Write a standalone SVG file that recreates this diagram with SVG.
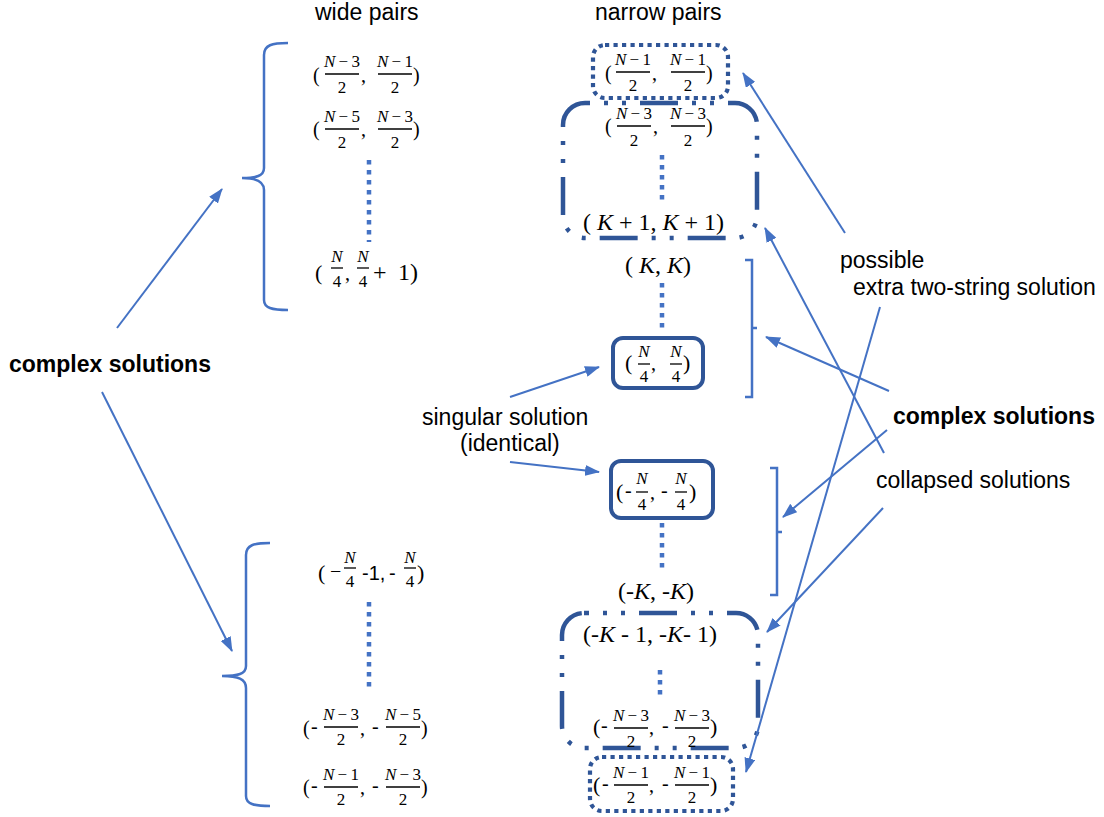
<svg xmlns="http://www.w3.org/2000/svg" width="1104" height="817" viewBox="0 0 1104 817">
<defs>
<style>
.t{font-family:"Liberation Sans",Arial,sans-serif;font-size:23px;fill:#000}
.bd{font-weight:bold}
.m{font-family:"Liberation Serif","Times New Roman",serif;fill:#000}
.p20{font-size:20px}
.p22{font-size:22px}
.p24{font-size:24px}
.fr{font-family:"Liberation Serif","Times New Roman",serif;font-size:17px;text-anchor:middle;fill:#000}
.s20{font-family:"Liberation Sans",Arial,sans-serif;font-size:20px;fill:#000}
.i{font-style:italic}
.bar{stroke:#000;stroke-width:1.3}
.dl{stroke:#4472C4;stroke-width:4.5;stroke-dasharray:4.5 5.5;fill:none}
.br{stroke:#4472C4;stroke-width:2.5;fill:none}
.dotbox{stroke:#2F5597;stroke-width:4.2;stroke-dasharray:4.2 4.3;fill:none}
.ddbox{stroke:#2F5597;stroke-width:4.5;stroke-dasharray:38 14 4 14 4 14;stroke-dashoffset:33;fill:none}
.solid{stroke:#2F5597;stroke-width:4;fill:#fff}
.ar{stroke:#4472C4;stroke-width:2;fill:none;marker-end:url(#ah)}
</style>
<marker id="ah" viewBox="0 0 15 11" refX="14" refY="5.5" markerWidth="15" markerHeight="11" markerUnits="userSpaceOnUse" orient="auto">
<path d="M0,0 L15,5.5 L0,11 z" fill="#4472C4"/>
</marker>
</defs>
<rect width="1104" height="817" fill="#fff"/>

<g id="labels">
<text class="t" x="315" y="20">wide pairs</text>
<text class="t" x="595" y="20">narrow pairs</text>
<text class="t bd" x="9" y="372">complex solutions</text>
<text class="t" x="422" y="425">singular solution</text>
<text class="t" x="460" y="451">(identical)</text>
<text class="t" x="840" y="268">possible</text>
<text class="t" x="853" y="295">extra two-string solution</text>
<text class="t bd" x="893" y="424">complex solutions</text>
<text class="t" x="876" y="488">collapsed solutions</text>
</g>

<g id="brace-wide-top">
<path class="br" d="M288,43 C272,43 264,45 264,55 L264,168 C264,176 256,178 242,178 C256,178 264,181 264,190 L264,300 C264,308 272,310 288,310"/>
</g>
<g id="brace-wide-bottom">
<path class="br" d="M270,543 C254,543 246,545 246,555 L246,666 C246,674 238,676 222,676 C238,676 246,679 246,688 L246,796 C246,804 254,806 270,806"/>
</g>
<g id="bracket-narrow-upper">
<path class="br" d="M745,260 L752,260 L752,397 L745,397 M752,328 L757,328" stroke-width="2"/>
</g>
<g id="bracket-narrow-lower">
<path class="br" d="M770,468 L777,468 L777,595 L770,595 M777,532 L782,532" stroke-width="2"/>
</g>

<!-- wide pairs top -->
<g id="w1">
<text class="m p20" x="313" y="82">(</text>
<text class="fr" x="342" y="67"><tspan class="i">N</tspan>&#8201;−&#8201;3</text>
<line class="bar" x1="325" y1="74" x2="359" y2="74"/>
<text class="fr" x="342" y="93">2</text>
<text class="m p20" x="361" y="82">,</text>
<text class="fr" x="395" y="67"><tspan class="i">N</tspan>&#8201;−&#8201;1</text>
<line class="bar" x1="378" y1="74" x2="412" y2="74"/>
<text class="fr" x="395" y="93">2</text>
<text class="m p20" x="413" y="82">)</text>
</g>
<g id="w2">
<text class="m p20" x="313" y="136">(</text>
<text class="fr" x="342" y="122"><tspan class="i">N</tspan>&#8201;−&#8201;5</text>
<line class="bar" x1="325" y1="129" x2="359" y2="129"/>
<text class="fr" x="342" y="148">2</text>
<text class="m p20" x="361" y="136">,</text>
<text class="fr" x="395" y="122"><tspan class="i">N</tspan>&#8201;−&#8201;3</text>
<line class="bar" x1="378" y1="129" x2="412" y2="129"/>
<text class="fr" x="395" y="148">2</text>
<text class="m p20" x="413" y="136">)</text>
</g>
<g id="w3">
<text class="m p22" x="315" y="280">(</text>
<text class="fr i" x="337" y="262">N</text>
<line class="bar" x1="331" y1="268" x2="343" y2="268"/>
<text class="fr" x="337" y="287">4</text>
<text class="m p20" x="345" y="280">,</text>
<text class="fr i" x="363" y="262">N</text>
<line class="bar" x1="357" y1="268" x2="369" y2="268"/>
<text class="fr" x="363" y="287">4</text>
<text class="m p24" x="373" y="280">+</text>
<text class="m p24" x="398" y="280">1)</text>
</g>

<!-- wide pairs bottom -->
<g id="w4">
<text class="m p22" x="318" y="580">(</text>
<text class="m p20" x="330" y="578">−</text>
<text class="fr i" x="350" y="563">N</text>
<line class="bar" x1="344" y1="568" x2="356" y2="568"/>
<text class="fr" x="350" y="587">4</text>
<text class="s20" x="362" y="580">-1,</text>
<text class="s20" x="389" y="580">-</text>
<text class="fr i" x="410" y="563">N</text>
<line class="bar" x1="404" y1="568" x2="416" y2="568"/>
<text class="fr" x="410" y="587">4</text>
<text class="m p22" x="417" y="580">)</text>
</g>
<g id="w5">
<text class="m p20" x="303" y="735">(</text>
<text class="m p20" x="311" y="733">-</text>
<text class="fr" x="341" y="720"><tspan class="i">N</tspan>&#8201;−&#8201;3</text>
<line class="bar" x1="324" y1="727" x2="358" y2="727"/>
<text class="fr" x="341" y="745">2</text>
<text class="m p20" x="360" y="735">,</text>
<text class="m p20" x="372" y="733">-</text>
<text class="fr" x="403" y="720"><tspan class="i">N</tspan>&#8201;−&#8201;5</text>
<line class="bar" x1="386" y1="727" x2="420" y2="727"/>
<text class="fr" x="403" y="745">2</text>
<text class="m p20" x="421" y="735">)</text>
</g>
<g id="w6">
<text class="m p20" x="303" y="794">(</text>
<text class="m p20" x="311" y="792">-</text>
<text class="fr" x="341" y="780"><tspan class="i">N</tspan>&#8201;−&#8201;1</text>
<line class="bar" x1="324" y1="787" x2="358" y2="787"/>
<text class="fr" x="341" y="805">2</text>
<text class="m p20" x="360" y="794">,</text>
<text class="m p20" x="372" y="792">-</text>
<text class="fr" x="403" y="780"><tspan class="i">N</tspan>&#8201;−&#8201;3</text>
<line class="bar" x1="386" y1="787" x2="420" y2="787"/>
<text class="fr" x="403" y="805">2</text>
<text class="m p20" x="421" y="794">)</text>
</g>

<!-- narrow pairs -->
<g id="n-box-upper">
<rect class="ddbox" x="563" y="103" width="194" height="135" rx="22"/>
</g>
<g id="n1">
<rect class="dotbox" x="593" y="45" width="135" height="53" rx="12"/>
<text class="m p20" x="605" y="80">(</text>
<text class="fr" x="633" y="65"><tspan class="i">N</tspan>&#8201;−&#8201;1</text>
<line class="bar" x1="616" y1="72" x2="650" y2="72"/>
<text class="fr" x="633" y="91">2</text>
<text class="m p20" x="652" y="80">,</text>
<text class="fr" x="688" y="65"><tspan class="i">N</tspan>&#8201;−&#8201;1</text>
<line class="bar" x1="671" y1="72" x2="705" y2="72"/>
<text class="fr" x="688" y="91">2</text>
<text class="m p20" x="706" y="80">)</text>
</g>
<g id="n2">
<text class="m p20" x="605" y="133">(</text>
<text class="fr" x="634" y="119"><tspan class="i">N</tspan>&#8201;−&#8201;3</text>
<line class="bar" x1="617" y1="126" x2="651" y2="126"/>
<text class="fr" x="634" y="146">2</text>
<text class="m p20" x="653" y="133">,</text>
<text class="fr" x="688" y="119"><tspan class="i">N</tspan>&#8201;−&#8201;3</text>
<line class="bar" x1="671" y1="126" x2="705" y2="126"/>
<text class="fr" x="688" y="146">2</text>
<text class="m p20" x="706" y="133">)</text>
</g>
<g id="n3">
<text class="m p24" x="583" y="230">( <tspan class="i">K</tspan> + 1, <tspan class="i">K</tspan> + 1)</text>
</g>
<g id="n4">
<text class="m p24" x="625" y="273">( <tspan class="i">K</tspan>, <tspan class="i">K</tspan>)</text>
</g>
<g id="n5">
<rect class="solid" x="613" y="338" width="90" height="50" rx="10"/>
<text class="m p22" x="625" y="370">(</text>
<text class="fr i" x="644" y="357">N</text>
<line class="bar" x1="638" y1="364" x2="650" y2="364"/>
<text class="fr" x="644" y="382">4</text>
<text class="m p20" x="651" y="370">,</text>
<text class="fr i" x="676" y="357">N</text>
<line class="bar" x1="670" y1="364" x2="682" y2="364"/>
<text class="fr" x="676" y="382">4</text>
<text class="m p22" x="683" y="370">)</text>
</g>
<g id="n6">
<rect class="solid" x="611" y="461" width="102" height="57" rx="10"/>
<text class="m p22" x="616" y="499">(</text>
<text class="m p20" x="625" y="497">-</text>
<text class="fr i" x="642" y="484">N</text>
<line class="bar" x1="636" y1="492" x2="648" y2="492"/>
<text class="fr" x="642" y="510">4</text>
<text class="m p20" x="650" y="499">,</text>
<text class="m p20" x="661" y="497">-</text>
<text class="fr i" x="681" y="484">N</text>
<line class="bar" x1="675" y1="492" x2="687" y2="492"/>
<text class="fr" x="681" y="510">4</text>
<text class="m p22" x="689" y="499">)</text>
</g>
<g id="n7">
<text class="m p24" x="618" y="599">(-<tspan class="i">K</tspan>, -<tspan class="i">K</tspan>)</text>
</g>
<g id="n-box-lower">
<rect class="ddbox" x="562" y="613" width="196" height="135" rx="22"/>
</g>
<g id="n8">
<text class="m p24" x="583" y="642">(-<tspan class="i">K</tspan> - 1, -<tspan class="i">K</tspan>- 1)</text>
</g>
<g id="n9">
<text class="m p22" x="593" y="734">(</text>
<text class="m p20" x="601" y="732">-</text>
<text class="fr" x="631" y="721"><tspan class="i">N</tspan>&#8201;−&#8201;3</text>
<line class="bar" x1="614" y1="728" x2="648" y2="728"/>
<text class="fr" x="631" y="747">2</text>
<text class="m p20" x="649" y="734">,</text>
<text class="m p20" x="662" y="732">-</text>
<text class="fr" x="692" y="721"><tspan class="i">N</tspan>&#8201;−&#8201;3</text>
<line class="bar" x1="675" y1="728" x2="709" y2="728"/>
<text class="fr" x="692" y="747">2</text>
<text class="m p22" x="710" y="734">)</text>
</g>
<g id="n10">
<rect class="dotbox" x="590" y="757" width="143" height="54" rx="12"/>
<text class="m p22" x="593" y="792">(</text>
<text class="m p20" x="602" y="790">-</text>
<text class="fr" x="631" y="778"><tspan class="i">N</tspan>&#8201;−&#8201;1</text>
<line class="bar" x1="614" y1="785" x2="648" y2="785"/>
<text class="fr" x="631" y="803">2</text>
<text class="m p20" x="649" y="792">,</text>
<text class="m p20" x="662" y="790">-</text>
<text class="fr" x="692" y="778"><tspan class="i">N</tspan>&#8201;−&#8201;1</text>
<line class="bar" x1="675" y1="785" x2="709" y2="785"/>
<text class="fr" x="692" y="803">2</text>
<text class="m p22" x="710" y="792">)</text>
</g>

<g id="connectors">
<line class="dl" x1="369" y1="160" x2="369" y2="242"/>
<line class="dl" x1="369" y1="602" x2="369" y2="688"/>
<line class="dl" x1="662" y1="155" x2="662" y2="200"/>
<line class="dl" x1="662" y1="283" x2="662" y2="330"/>
<line class="dl" x1="662" y1="523" x2="662" y2="568"/>
<line class="dl" x1="660" y1="670" x2="660" y2="700"/>
<line class="ar" x1="117" y1="328" x2="222" y2="189"/>
<line class="ar" x1="102" y1="392" x2="232" y2="651"/>
<line class="ar" x1="510" y1="397" x2="599" y2="367"/>
<line class="ar" x1="510" y1="462" x2="599" y2="472"/>
<line class="ar" x1="845" y1="233" x2="743" y2="73"/>
<line class="ar" x1="884" y1="453" x2="765" y2="228"/>
<line class="ar" x1="889" y1="391" x2="766" y2="337"/>
<line class="ar" x1="887" y1="430" x2="783" y2="517"/>
<line class="ar" x1="880" y1="307" x2="746" y2="772"/>
<line class="ar" x1="883" y1="508" x2="767" y2="632"/>
</g>
</svg>
